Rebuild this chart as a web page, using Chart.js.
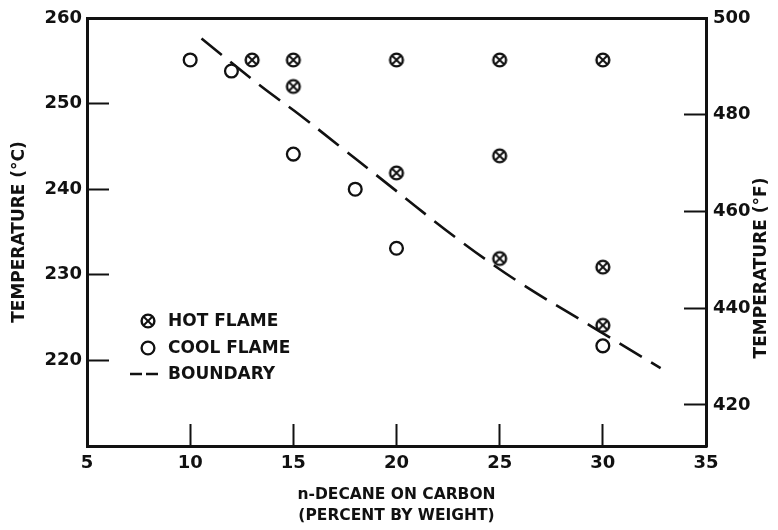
<!DOCTYPE html>
<html>
<head>
<meta charset="utf-8">
<title>n-Decane on carbon: flame boundary</title>
<script src="https://cdn.jsdelivr.net/npm/chart.js@4.4.1/dist/chart.umd.min.js"></script>
<style>
  html, body { margin: 0; padding: 0; background: #fff; }
  canvas { display: block; }
</style>
</head>
<body>
<canvas id="flameChart" width="778" height="530"></canvas>
<script>
// n-decane loading (wt %) vs. ignition temperature
const hotX = [13, 15, 15, 20, 20, 25, 25, 25, 30, 30, 30];
const hotY = [255.1, 255.1, 252.0, 255.1, 241.9, 255.1, 243.9, 231.9, 255.1, 230.9, 224.1];
const coolX = [10, 12, 15, 18, 20, 30];
const coolY = [255.1, 253.8, 244.1, 240.0, 233.1, 221.7];
const boundaryX = [10.55, 13.5, 15.3, 17.15, 19.1, 22.9, 25.9, 29.5, 32.8];
const boundaryY = [257.6, 251.9, 248.7, 245.2, 241.5, 234.3, 229.2, 223.9, 219.1];

const xTicks = [5, 10, 15, 20, 25, 30, 35];
const celsiusTicks = [220, 230, 240, 250, 260];
const fahrenheitTicks = [420, 440, 460, 480, 500];

const legendLabels = ['HOT FLAME', 'COOL FLAME', 'BOUNDARY'];
const INK = '#111';
const FONT = 'DejaVu Sans';

const toPoints = (xs, ys) => xs.map((x, i) => ({ x: x, y: ys[i] }));

// circle with a diagonal cross, used for the hot flame points
function makeHotMarker() {
    const c = document.createElement('canvas');
    c.width = 18;
    c.height = 18;
    const g = c.getContext('2d');
    const r = 6.4;
    const d = r * Math.SQRT1_2;
    g.fillStyle = '#fff';
    g.strokeStyle = INK;
    g.lineWidth = 2.4;
    g.beginPath();
    g.arc(9, 9, r, 0, Math.PI * 2);
    g.fill();
    g.stroke();
    g.lineWidth = 1.9;
    g.beginPath();
    g.moveTo(9 - d, 9 - d); g.lineTo(9 + d, 9 + d);
    g.moveTo(9 + d, 9 - d); g.lineTo(9 - d, 9 + d);
    g.stroke();
    return c;
}
const hotMarker = makeHotMarker();

// legend sits inside the plot, lower left
const insideLegend = {
    id: 'insideLegend',
    afterDraw(chart) {
        const { ctx, chartArea } = chart;
        const mx = chartArea.left + 61;
        const tx = chartArea.left + 81;
        const rows = [chartArea.top + 303, chartArea.top + 330, chartArea.top + 356];
        ctx.save();
        ctx.font = 'bold 17px "' + FONT + '"';
        ctx.fillStyle = INK;
        ctx.textBaseline = 'middle';

        ctx.drawImage(hotMarker, mx - 9, rows[0] - 9);

        ctx.strokeStyle = INK;
        ctx.fillStyle = '#fff';
        ctx.lineWidth = 2.3;
        ctx.beginPath();
        ctx.arc(mx, rows[1], 6.4, 0, Math.PI * 2);
        ctx.fill();
        ctx.stroke();

        ctx.lineWidth = 2.6;
        ctx.setLineDash([12, 4]);
        ctx.beginPath();
        ctx.moveTo(mx - 18, rows[2]);
        ctx.lineTo(mx + 12, rows[2]);
        ctx.stroke();
        ctx.setLineDash([]);

        ctx.fillStyle = INK;
        legendLabels.forEach((t, i) => ctx.fillText(t, tx, rows[i] + 1));
        ctx.restore();
    }
};

// right-hand title reads bottom-to-top like the left one
const rightTitle = {
    id: 'rightTitle',
    afterDraw(chart) {
        const { ctx } = chart;
        ctx.save();
        ctx.translate(762, 268);
        ctx.rotate(-Math.PI / 2);
        ctx.font = 'bold 17px "' + FONT + '"';
        ctx.fillStyle = INK;
        ctx.textAlign = 'center';
        ctx.textBaseline = 'middle';
        ctx.fillText('TEMPERATURE (°F)', 0, 0);
        ctx.restore();
    }
};

const tickFont = { family: FONT, size: 18, weight: 'bold' };

const inwardGrid = {
    drawOnChartArea: false,
    drawTicks: true,
    tickLength: -22,
    tickWidth: 2,
    tickColor: INK
};
const axisBorder = { display: true, width: 3, color: INK };

const setTicks = list => scale => { scale.ticks = list.map(v => ({ value: v })); };
// fixed box sizes; no extra room for labels hanging past the plot corners
const fitWidth = w => s => { s.width = w; s.paddingTop = 0; s.paddingBottom = 0; };
const fitHeight = h => s => { s.height = h; s.paddingLeft = 0; s.paddingRight = 0; };

new Chart(document.getElementById('flameChart'), {
    type: 'scatter',
    data: {
        datasets: [
            {
                label: 'HOT FLAME',
                data: toPoints(hotX, hotY),
                pointStyle: hotMarker,
                pointRadius: 9,
                yAxisID: 'y'
            },
            {
                label: 'COOL FLAME',
                data: toPoints(coolX, coolY),
                pointStyle: 'circle',
                pointRadius: 6.4,
                borderWidth: 2.3,
                borderColor: INK,
                backgroundColor: '#fff',
                yAxisID: 'y'
            },
            {
                label: 'BOUNDARY',
                data: toPoints(boundaryX, boundaryY),
                showLine: true,
                tension: 0.35,
                pointRadius: 0,
                borderColor: INK,
                borderWidth: 2.6,
                borderDash: [26, 11],
                yAxisID: 'y'
            }
        ]
    },
    options: {
        responsive: false,
        animation: false,
        layout: { padding: { top: 18, left: 0, right: 0, bottom: 0 } },
        plugins: {
            legend: { display: false },
            tooltip: { enabled: false }
        },
        scales: {
            x: {
                type: 'linear',
                position: 'bottom',
                min: 5,
                max: 35,
                afterBuildTicks: setTicks(xTicks),
                afterFit: fitHeight(84),
                grid: inwardGrid,
                border: axisBorder,
                ticks: { color: INK, font: tickFont, padding: 29, maxRotation: 0 },
                title: {
                    display: true,
                    text: ['n-DECANE ON CARBON', '(PERCENT BY WEIGHT)'],
                    color: INK,
                    font: { family: FONT, size: 15.5, weight: 'bold', lineHeight: 1.33 },
                    padding: { top: 0, bottom: 4 }
                }
            },
            xTop: {
                type: 'linear',
                position: 'top',
                min: 5,
                max: 35,
                afterFit: fitHeight(0),
                grid: { drawOnChartArea: false, drawTicks: false },
                border: axisBorder,
                ticks: { display: false }
            },
            y: {
                type: 'linear',
                position: 'left',
                min: 210,
                max: 260,
                afterBuildTicks: setTicks(celsiusTicks),
                afterFit: fitWidth(87),
                grid: inwardGrid,
                border: axisBorder,
                ticks: { color: INK, font: tickFont, padding: 27 },
                title: {
                    display: true,
                    text: 'TEMPERATURE (°C)',
                    color: INK,
                    font: { family: FONT, size: 17, weight: 'bold', lineHeight: 1.2 },
                    padding: { top: 9, bottom: 0 }
                }
            },
            y2: {
                type: 'linear',
                position: 'right',
                min: 411.5,
                max: 500,
                afterBuildTicks: setTicks(fahrenheitTicks),
                afterFit: fitWidth(72),
                grid: inwardGrid,
                border: axisBorder,
                ticks: { color: INK, font: tickFont, padding: 29 }
            }
        }
    },
    plugins: [insideLegend, rightTitle]
});
</script>
</body>
</html>
